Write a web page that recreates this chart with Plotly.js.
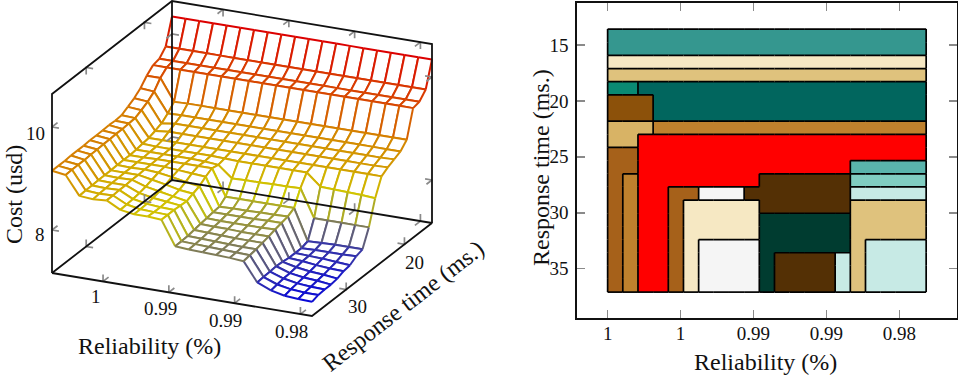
<!DOCTYPE html>
<html><head><meta charset="utf-8">
<script src="https://cdn.plot.ly/plotly-3.0.1.min.js"></script>
<style>html,body{margin:0;padding:0;background:#fff}#c{width:958px;height:378px}</style>
</head><body><div id="c"></div>
<script>
// ---------- left chart data ----------
const reliabilityMesh=[0.99888,0.99784,0.9968,0.99576,0.99472,0.99368,0.99264,0.9916,0.99056,0.98952,0.98848,0.98744,0.9864,0.98536,0.98432,0.98328,0.98224,0.9812,0.98016,0.97912];
const responseMesh=[35.87,34.79,33.70,32.62,31.53,30.45,29.36,28.28,27.20,26.11,25.03,23.94,22.86,21.77,20.69,19.61,18.52,17.44,16.35,15.27];
const costMesh=[
[9.15,9.11,8.75,8.73,8.75,8.61,8.57,8.57,8.55,8.08,8.06,8.05,8.04,8.03,8.01,7.64,7.53,7.47,7.45,7.44],
[9.15,9.12,8.76,8.74,8.75,8.62,8.57,8.56,8.55,8.08,8.07,8.06,8.05,8.04,8.03,7.65,7.55,7.50,7.48,7.48],
[9.15,9.12,8.76,8.75,8.76,8.63,8.58,8.56,8.55,8.09,8.08,8.07,8.06,8.05,8.05,7.66,7.57,7.52,7.50,7.49],
[9.16,9.12,8.77,8.76,8.76,8.65,8.60,8.57,8.54,8.11,8.10,8.09,8.08,8.08,8.08,7.67,7.58,7.54,7.52,7.49],
[9.16,9.13,8.77,8.76,8.77,8.68,8.63,8.58,8.53,8.13,8.12,8.12,8.11,8.11,8.11,7.66,7.60,7.56,7.54,7.51],
[9.16,9.13,8.77,8.77,8.77,8.72,8.67,8.61,8.58,8.15,8.14,8.14,8.14,8.14,8.15,7.64,7.62,7.59,7.57,7.56],
[9.17,9.14,8.78,8.77,8.78,8.76,8.72,8.67,8.63,8.17,8.17,8.17,8.17,8.18,8.18,7.64,7.63,7.62,7.60,7.58],
[9.17,9.14,8.78,8.78,8.78,8.78,8.76,8.74,8.72,8.18,8.19,8.19,8.20,8.20,8.21,7.64,7.65,7.65,7.65,7.66],
[9.17,9.15,8.78,8.78,8.79,8.79,8.79,8.79,8.79,8.28,8.28,8.28,8.28,8.28,8.28,7.68,7.69,7.70,7.70,7.70],
[9.18,9.15,8.79,8.79,8.79,8.79,8.79,8.78,8.76,8.54,8.55,8.55,8.56,8.56,8.57,8.03,8.03,8.03,8.03,8.03],
[9.17,9.16,8.81,8.80,8.80,8.80,8.80,8.80,8.79,8.78,8.78,8.78,8.78,8.78,8.78,8.55,8.54,8.53,8.52,8.50],
[9.18,9.17,8.83,8.83,8.83,8.83,8.83,8.83,8.83,8.83,8.83,8.83,8.83,8.83,8.83,8.83,8.83,8.83,8.83,8.83],
[9.25,9.23,8.87,8.90,8.90,8.90,8.90,8.90,8.90,8.90,8.90,8.90,8.90,8.90,8.90,8.90,8.90,8.90,8.90,8.91],
[9.32,9.30,8.92,8.96,8.96,8.96,8.96,8.96,8.96,8.96,8.96,8.96,8.96,8.96,8.96,8.96,8.96,8.96,8.96,8.97],
[9.42,9.40,9.02,9.03,9.03,9.03,9.03,9.03,9.03,9.03,9.03,9.03,9.03,9.03,9.03,9.03,9.03,9.03,9.03,9.03],
[9.57,9.57,9.15,9.16,9.16,9.16,9.16,9.16,9.16,9.16,9.16,9.16,9.16,9.16,9.16,9.16,9.16,9.16,9.16,9.16],
[9.68,9.68,9.68,9.68,9.68,9.68,9.68,9.68,9.68,9.68,9.68,9.68,9.68,9.68,9.68,9.68,9.68,9.68,9.68,9.68],
[9.71,9.71,9.71,9.71,9.71,9.71,9.71,9.71,9.71,9.71,9.71,9.71,9.71,9.71,9.71,9.71,9.71,9.71,9.71,9.71],
[9.85,9.85,9.85,9.85,9.85,9.85,9.85,9.85,9.85,9.85,9.85,9.85,9.85,9.85,9.85,9.85,9.85,9.85,9.85,9.85],
[10.34,10.34,10.34,10.34,10.34,10.34,10.34,10.34,10.34,10.34,10.34,10.34,10.34,10.34,10.34,10.34,10.34,10.34,10.34,10.34]];
const xRange3d=[0.99888,0.97912], yRange3d=[35.87,15.27], zRange3d=[7.165,10.64];
const xTicks3d=[0.995,0.99,0.985,0.98], yTicks3d=[30,20], zTicks3d=[8,10];
const colorStops=[7.44,8.45,10.34], colorValues=[[8,8,216],[208,204,0],[220,0,0]];

// ---------- right chart data ----------
const regionReliability=[0.99948,0.99844,0.99740,0.99636,0.99532,0.99428,0.99324,0.99220,0.99116,0.99012,0.98908,0.98804,0.98700,0.98596,0.98492,0.98388,0.98284,0.98180,0.98076,0.97972,0.97868];
const regionResponse=[14.16,15.33,16.51,17.69,18.86,20.04,21.21,22.39,23.57,24.74,25.92,27.10,28.27,29.45,30.63,31.80,32.98,34.16,35.33,36.51];
const regionColors=['#35978f','#f6e8c3','#dfc27d','#01665e','#0a8a73','#8c510a','#d8b365','#bf812d','#ff0000','#a6611a','#543005','#f5f5f5','#003c30','#c7eae5','#5ab4ac','#80cdc1'];
const A=0,B=1,C=2,D=3,E=4,F=5,G=6,H=7,R=8,M=9,J=10,L=11,P=12,Q=13,S=14,T=15;
const regionGrid=[
[A,A,A,A,A,A,A,A,A,A,A,A,A,A,A,A,A,A,A,A,A],
[A,A,A,A,A,A,A,A,A,A,A,A,A,A,A,A,A,A,A,A,A],
[B,B,B,B,B,B,B,B,B,B,B,B,B,B,B,B,B,B,B,B,B],
[C,C,C,C,C,C,C,C,C,C,C,C,C,C,C,C,C,C,C,C,C],
[E,E,D,D,D,D,D,D,D,D,D,D,D,D,D,D,D,D,D,D,D],
[F,F,F,D,D,D,D,D,D,D,D,D,D,D,D,D,D,D,D,D,D],
[F,F,F,D,D,D,D,D,D,D,D,D,D,D,D,D,D,D,D,D,D],
[G,G,G,H,H,H,H,H,H,H,H,H,H,H,H,H,H,H,H,H,H],
[G,G,R,R,R,R,R,R,R,R,R,R,R,R,R,R,R,R,R,R,R],
[M,M,R,R,R,R,R,R,R,R,R,R,R,R,R,R,R,R,R,R,R],
[M,M,R,R,R,R,R,R,R,R,R,R,R,R,R,R,S,S,S,S,S],
[M,H,R,R,R,R,R,R,R,R,J,J,J,J,J,J,T,T,T,T,T],
[M,H,R,R,M,M,L,L,L,J,J,J,J,J,J,J,Q,Q,Q,Q,Q],
[M,H,R,R,M,B,B,B,B,B,J,J,J,J,J,J,C,C,C,C,C],
[M,H,R,R,M,B,B,B,B,B,P,P,P,P,P,P,C,C,C,C,C],
[M,H,R,R,M,B,B,B,B,B,P,P,P,P,P,P,C,C,C,C,C],
[M,H,R,R,M,B,L,L,L,L,P,P,P,P,P,P,C,Q,Q,Q,Q],
[M,H,R,R,M,B,L,L,L,L,P,J,J,J,J,Q,C,Q,Q,Q,Q],
[M,H,R,R,M,B,L,L,L,L,P,J,J,J,J,Q,C,Q,Q,Q,Q],
[M,H,R,R,M,B,L,L,L,L,P,J,J,J,J,Q,C,Q,Q,Q,Q]];
const regionTickX=[1,0.995,0.99,0.985,0.98], regionTickXLabels=['1','1','0.99','0.99','0.98'];
const regionTickY=[15,20,25,30,35];

// ---------- projection of the left chart onto a plain 2D plot plane ----------
const W=958,Ht=378,font='"Liberation Serif",serif',ink='#111',tickGrey='#8a8a8a',tickSize=19,titleSize=24;
const origin=[52,273], vecX=[260,43], vecY=[120,-93], vecZ=[0,-179]; // view 25/20 axonometry
const [x0,x1]=xRange3d,[y0,y1]=yRange3d,[z0,z1]=zRange3d;
function proj(x,y,z){
  const a=(x-x0)/(x1-x0),b=(y-y0)/(y1-y0),c=(z-z0)/(z1-z0);
  return [origin[0]+a*vecX[0]+b*vecY[0]+c*vecZ[0], origin[1]+a*vecX[1]+b*vecY[1]+c*vecZ[1]];
}
function meshColor(z){
  const k=z<colorStops[1]?0:1;
  const f=Math.min(1,Math.max(0,(z-colorStops[k])/(colorStops[k+1]-colorStops[k])));
  const c=colorValues[k].map((v,n)=>Math.round(v+(colorValues[k+1][n]-v)*f));
  return 'rgb('+c.join(',')+')';
}
const quant=v=>Math.round(v*25)/25;
const vtx=(i,j)=>proj(reliabilityMesh[i],responseMesh[j],costMesh[j][i]);
const traces=[];
const ax2={xaxis:'x2',yaxis:'y2',hoverinfo:'skip',showlegend:false,type:'scatter',cliponaxis:false};
for(let j=responseMesh.length-2;j>=0;j--){
  for(let i=0;i<reliabilityMesh.length-1;i++){
    const corners=[[i,j],[i+1,j],[i+1,j+1],[i,j+1]];
    const pts=corners.map(c=>vtx(c[0],c[1]));
    traces.push(Object.assign({mode:'none',fill:'toself',fillcolor:'#fff',x:[...pts.map(p=>p[0]),pts[0][0]],y:[...pts.map(p=>p[1]),pts[0][1]]},ax2));
    const groups={};
    corners.forEach((c,k)=>{
      const d=corners[(k+1)%4];
      const col=meshColor(quant((costMesh[c[1]][c[0]]+costMesh[d[1]][d[0]])/2));
      const g=groups[col]||(groups[col]={x:[],y:[]});
      const p=pts[k],q=pts[(k+1)%4];
      g.x.push(p[0],q[0],null);g.y.push(p[1],q[1],null);
    });
    for(const col in groups){
      traces.push(Object.assign({mode:'lines',x:groups[col].x,y:groups[col].y,line:{color:col,width:2,simplify:false},connectgaps:false},ax2));
    }
  }
}
// box
const corner=(a,b,c)=>proj(a,b,c);
const boxPts=[[x0,y0,z0],[x1,y0,z0],[x1,y1,z0],[x0,y1,z0],[x0,y0,z0],null,
 [x0,y0,z0],[x0,y0,z1],[x0,y1,z1],[x1,y1,z1],[x1,y1,z0],null,[x0,y1,z0],[x0,y1,z1]].map(p=>p?corner(p[0],p[1],p[2]):[null,null]);
// ticks: two short arms lying in the adjoining faces
const armX=(x1-x0)*7/263,armY=(y1-y0)*7/152,armZ=(z1-z0)*7/179;
const tx=[],ty=[];
function arms(p,a,b){
  const A1=corner(p[0]+a[0],p[1]+a[1],p[2]+a[2]),O=corner(p[0],p[1],p[2]),B1=corner(p[0]+b[0],p[1]+b[1],p[2]+b[2]);
  tx.push(A1[0],O[0],B1[0],null);ty.push(A1[1],O[1],B1[1],null);
}
for(const x of xTicks3d){arms([x,y0,z0],[0,armY,0],[0,0,armZ]);arms([x,y1,z0],[0,-armY,0],[0,0,armZ]);arms([x,y1,z1],[0,-armY,0],[0,0,-armZ]);}
for(const y of yTicks3d){arms([x0,y,z0],[armX,0,0],[0,0,armZ]);arms([x1,y,z0],[-armX,0,0],[0,0,armZ]);arms([x0,y,z1],[armX,0,0],[0,0,-armZ]);}
for(const z of zTicks3d){arms([x0,y0,z],[armX,0,0],[0,armY,0]);arms([x0,y1,z],[armX,0,0],[0,-armY,0]);arms([x1,y1,z],[-armX,0,0],[0,-armY,0]);}
traces.push(Object.assign({mode:'lines',x:tx,y:ty,line:{color:tickGrey,width:1.7},connectgaps:false},ax2));
traces.push(Object.assign({mode:'lines',x:boxPts.map(p=>p[0]),y:boxPts.map(p=>p[1]),line:{color:ink,width:1.8},connectgaps:false},ax2));

// ---------- build right ----------
const n=regionColors.length;
const discrete=[];regionColors.forEach((c,k)=>{discrete.push([k/n,c],[(k+1)/n,c]);});
const nr=regionResponse.length,nc=regionReliability.length;
const dx=(regionReliability[1]-regionReliability[0])/2,dy=(regionResponse[1]-regionResponse[0])/2;
const ox=[],oy=[];
function seg(a,b,c,d){ox.push(a,c,null);oy.push(b,d,null);}
for(let r=0;r<nr;r++)for(let c=0;c<nc;c++){
  const v=regionGrid[r][c],X=regionReliability[c],Y=regionResponse[r];
  if(r===0||regionGrid[r-1][c]!==v)seg(X-dx,Y-dy,X+dx,Y-dy);
  if(r===nr-1)seg(X-dx,Y+dy,X+dx,Y+dy);
  if(c===0||regionGrid[r][c-1]!==v)seg(X-dx,Y-dy,X-dx,Y+dy);
  if(c===nc-1)seg(X+dx,Y-dy,X+dx,Y+dy);
}
traces.push({type:'heatmap',x:regionReliability,y:regionResponse,z:regionGrid,zmin:0,zmax:n,colorscale:discrete,showscale:false,hoverinfo:'skip',xaxis:'x',yaxis:'y'});
traces.push({type:'scatter',mode:'lines',x:ox,y:oy,line:{color:'#000',width:1.7},hoverinfo:'skip',showlegend:false,connectgaps:false,xaxis:'x',yaxis:'y'});

const px=v=>v/W,py=v=>1-v/Ht;
const label=(t,x,y,size,angle)=>({text:t,x:px(x),y:py(y),xref:'paper',yref:'paper',showarrow:false,xanchor:'center',yanchor:'middle',textangle:angle||0,font:{family:font,size:size,color:ink}});
const layout={width:W,height:Ht,margin:{l:0,r:0,t:0,b:0},paper_bgcolor:'#fff',plot_bgcolor:'#fff',showlegend:false,
 xaxis2:{domain:[0,490/W],range:[0,490],visible:false,fixedrange:true},
 yaxis2:{domain:[0,1],range:[378,0],visible:false,fixedrange:true},
 xaxis:{domain:[577/W,956.5/W],range:[1.0021,0.97608],tickvals:regionTickX,ticktext:regionTickXLabels,ticks:'inside',ticklen:8,tickcolor:tickGrey,tickwidth:1.5,mirror:'ticks',showline:true,linecolor:ink,linewidth:1.7,showgrid:false,zeroline:false,
  tickfont:{family:font,size:tickSize,color:ink},ticklabelstandoff:-3,title:{text:''}},
 yaxis:{domain:[1-318/Ht,1-3/Ht],range:[39.41,11.245],tickvals:regionTickY,ticks:'inside',ticklen:8,tickcolor:tickGrey,tickwidth:1.5,mirror:'ticks',showline:true,linecolor:ink,linewidth:1.7,showgrid:false,zeroline:false,
  tickfont:{family:font,size:tickSize,color:ink},ticklabelstandoff:3,title:{text:''}},
 annotations:[
  label('1',95.7,296,tickSize),label('0.99',160,308,tickSize),label('0.99',225,320,tickSize),label('0.98',291.7,331,tickSize),
  label('30',357,306,tickSize),label('20',414,262,tickSize),label('10',35,133,tickSize),label('8',40,234,tickSize),
  label('Reliability (%)',149,346,titleSize),label('Cost (usd)',14,195,titleSize,-90),label('Response time (ms.)',403,306,titleSize,-37.8),
  label('Reliability (%)',765,362,titleSize),label('Response time (ms.)',541,168,titleSize,-90)
 ]};
Plotly.newPlot('c',traces,layout,{staticPlot:true,displayModeBar:false});
</script></body></html>
